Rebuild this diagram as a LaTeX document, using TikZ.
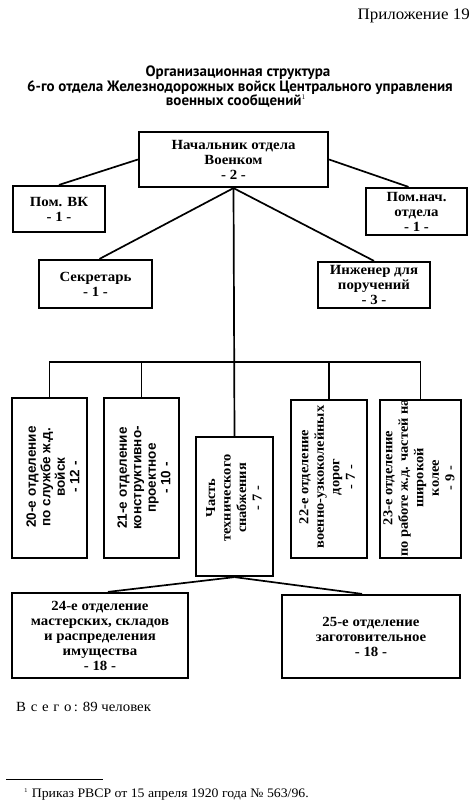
\documentclass[tikz,border=0pt]{standalone}
\usepackage{fontspec}
\setmainfont{Liberation Serif}[FakeStretch=1.06]
\newfontfamily\titlefont{PT Sans}
\newfontfamily\vsans{Liberation Sans}
\usetikzlibrary{calc}
\begin{document}
\begin{tikzpicture}[x=1pt,y=-1pt,
  box/.style={draw, line width=2.2pt, inner sep=0pt, align=center,
    font=\fontsize{14}{15}\selectfont\bfseries},
  vtext/.style={rotate=90, align=center, inner sep=0pt,
    font=\fontsize{13.6}{15.5}\selectfont\bfseries},
  vstext/.style={rotate=90, align=center, inner sep=0pt,
    font=\vsans\fontsize{13.5}{14.5}\selectfont\bfseries},
  link/.style={line width=1.7pt},
  plain/.style={inner sep=0pt}]
\useasboundingbox (0,0) rectangle (472,800);
\fill[white] (0,0) rectangle (472,800);

% header and title
\node[plain, anchor=base east, font=\fontsize{16}{18}\selectfont] (hdr) at (470,20) {Приложение 19};
\node[plain, anchor=base, font=\titlefont\fontsize{15}{14}\selectfont\bfseries] (ttl1) at (238,77) {Организационная структура};
\node[plain, anchor=base, font=\titlefont\fontsize{15}{14}\selectfont\bfseries] (ttl2) at (240,91) {6-го отдела Железнодорожных войск Центрального управления};
\node[plain, anchor=base, font=\titlefont\fontsize{15}{14}\selectfont\bfseries] (ttl3) at (236,105) {военных сообщений$^{\scriptscriptstyle 1}$};

% top level
\node[box, minimum width=189pt, minimum height=55pt] (top) at (233.5,159.5) {Начальник отдела\\Военком\\- 2 -};
\node[box, minimum width=92pt, minimum height=46pt] (pvk) at (59,209) {Пом. ВК\\- 1 -};
\node[box, minimum width=101pt, minimum height=47pt] (pnach) at (416.5,211.5) {Пом.нач.\\отдела\\- 1 -};
\node[box, minimum width=113pt, minimum height=48pt] (sec) at (95.5,284) {Секретарь\\- 1 -};
\node[box, minimum width=112pt, minimum height=46pt] (eng) at (374,285) {Инженер для\\поручений\\- 3 -};

% vertical boxes
\node[box, minimum width=75pt, minimum height=160pt] (b20) at (49.5,478) {};
\node[vstext] (t20) at (53,477) {20-е отделение\\по службе ж.д.\\войск\\- 12 -};
\node[box, minimum width=75pt, minimum height=160pt] (b21) at (141.5,478) {};
\node[vstext] (t21) at (144,478) {21-е отделение\\конструктивно-\\проектное\\- 10 -};
\node[box, minimum width=77pt, minimum height=139pt] (chast) at (234.5,506.5) {};
\node[vtext] (tch) at (234,498) {Часть\\технического\\снабжения\\- 7 -};
\node[box, minimum width=76pt, minimum height=158pt] (b22) at (329,479) {};
\node[vtext] (t22) at (327,477) {22-е отделение\\военно-узкоколейных\\дорог\\- 7 -};
\node[box, minimum width=81pt, minimum height=158pt] (b23) at (420.5,479) {};
\node[vtext] (t23) at (419,478) {23-е отделение\\по работе ж.д. частей на\\широкой\\колее\\- 9 -};

% bottom boxes
\node[box, minimum width=176pt, minimum height=85pt] (b24) at (100,635.5) {24-е отделение\\мастерских, складов\\и распределения\\имущества\\- 18 -};
\node[box, minimum width=178pt, minimum height=83pt] (b25) at (371,636.5) {25-е отделение\\заготовительное\\- 18 -};

% connectors
\coordinate (bar) at (234,362);
\draw[link] (top.west) -- (pvk.north);
\draw[link] (top.east) -- ($(pnach.north)+(-8,0)$);
\draw[link] (top.south) -- ($(sec.north)+(4,0)$);
\draw[link] (top.south) -- (eng.north);
\draw[link] (top.south) -- (chast.north);
\draw[link] (b20.north) |- (bar) -| (b23.north);
\draw[link] (b21.north) -- (b21.north |- bar);
\draw[link] (b22.north) -- (b22.north |- bar);
\draw[link] (chast.south) -- ($(b24.north)+(8,0)$);
\draw[link] (chast.south) -- ($(b25.north)+(-9,0)$);

% total and footnote
\node[plain, anchor=base west, font=\fontsize{14}{16}\selectfont] (total) at (16,711) {В\,\,с\,\,е\,\,г\,\,о\,: 89 человек};
\coordinate (fl) at (6,779);
\coordinate (fr) at (103,779);
\draw[line width=0.8pt] (fl) -- (fr);
\node[plain, anchor=base west, font=\fontsize{13}{14}\selectfont] (fn) at (24,797) {$^{\scriptscriptstyle 1}$ Приказ РВСР от 15 апреля 1920 года №~563/96.};
\end{tikzpicture}
\end{document}
